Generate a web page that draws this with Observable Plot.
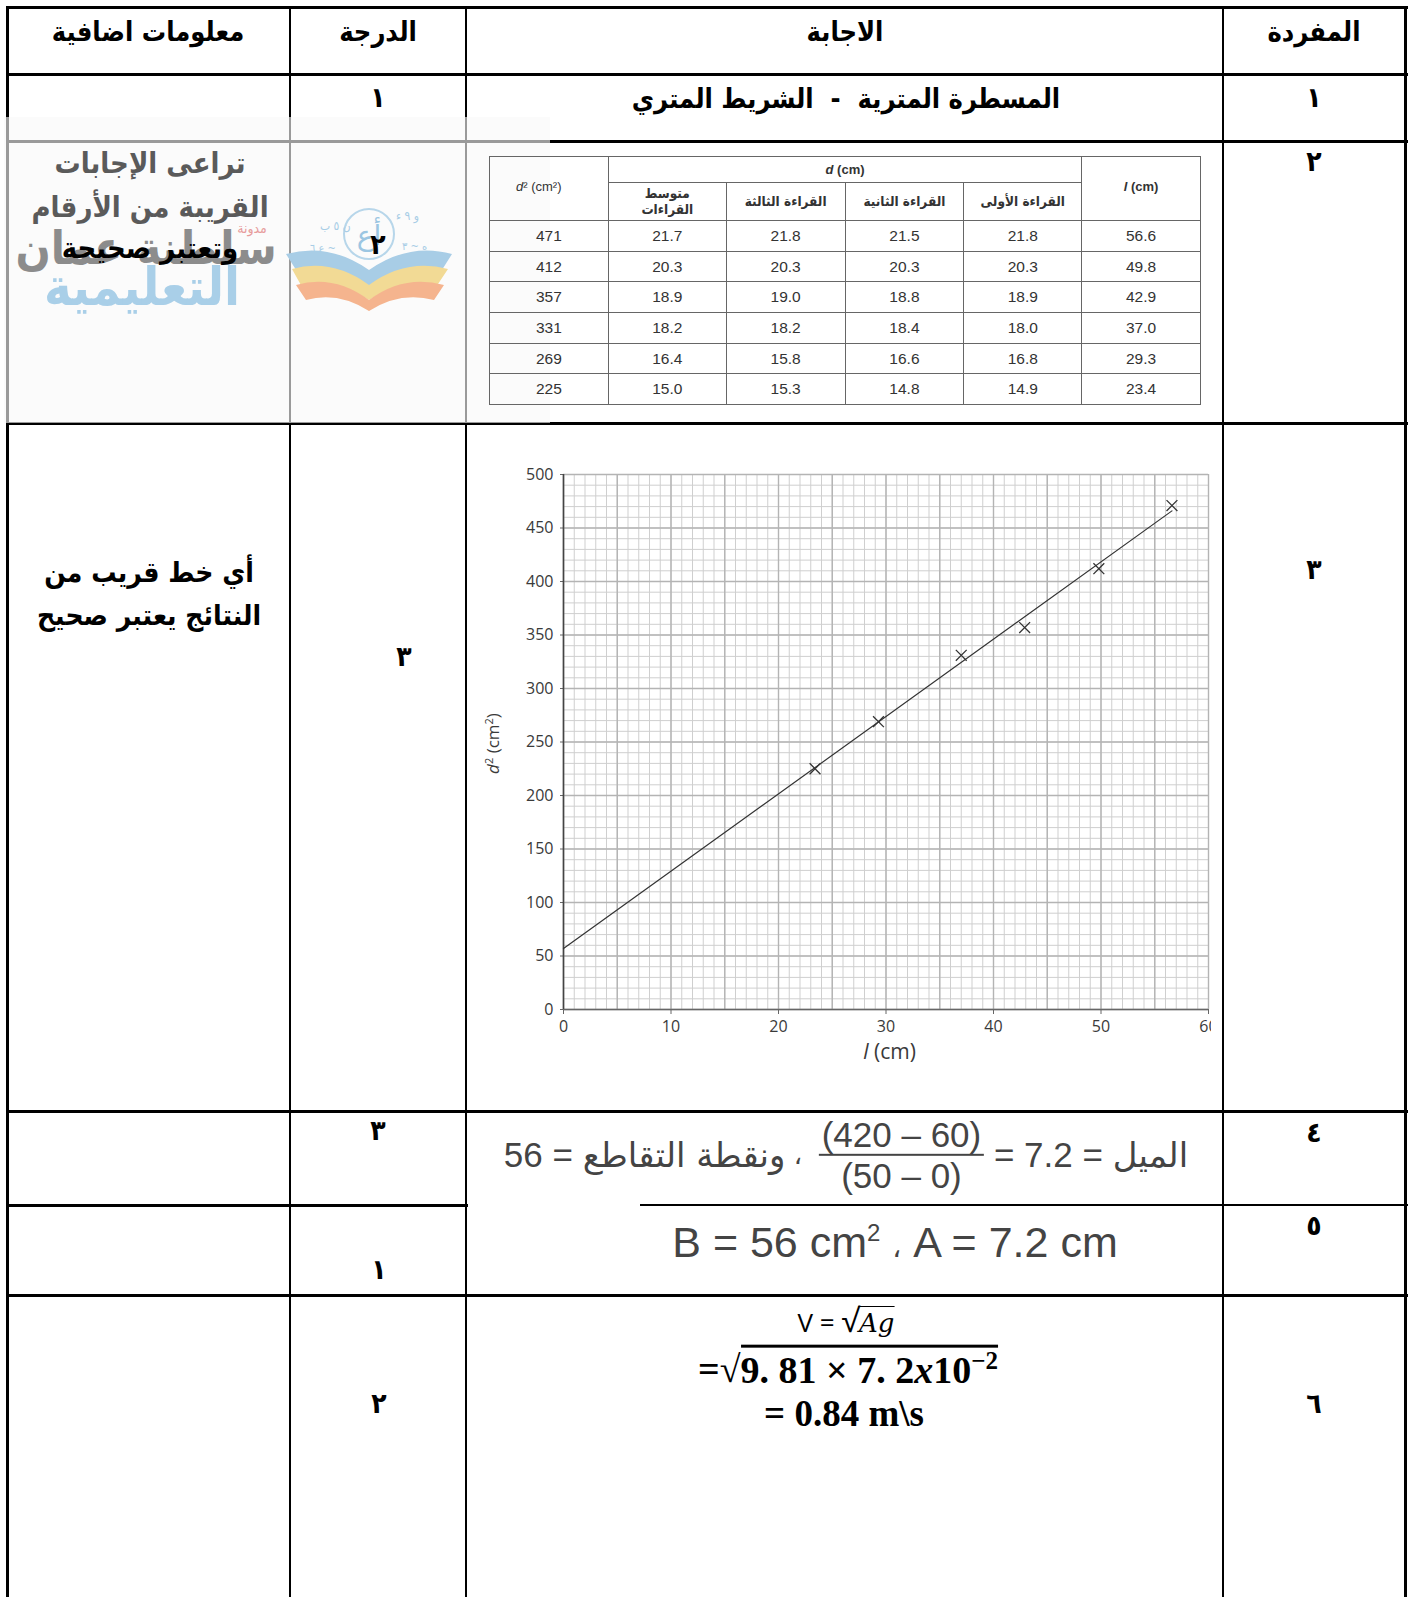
<!DOCTYPE html>
<html><head><meta charset="utf-8">
<script src="https://cdn.jsdelivr.net/npm/d3@7"></script>
<script src="https://cdn.jsdelivr.net/npm/@observablehq/plot@0.6"></script>
<style>
html,body{margin:0;padding:0;background:#fff;}
body{width:1413px;height:1597px;position:relative;overflow:hidden;font-family:"DejaVu Sans Condensed","DejaVu Sans",sans-serif;}
.ln{position:absolute;background:#000;}
.t{position:absolute;transform:translate(-50%,-50%);white-space:nowrap;font-weight:bold;line-height:1;}
#dt{position:absolute;border-collapse:collapse;font-family:"Liberation Sans",Arial,sans-serif;color:#333;}
#dt td{border:1px solid #666;text-align:center;padding:0;font-size:15.5px;}
#dt .ar{font-family:"DejaVu Sans Condensed","DejaVu Sans",sans-serif;font-weight:bold;font-size:13.5px;line-height:1.15;}
.sq{border-top:2px solid #000;padding-top:1px;}
</style></head><body>
<script>
// ---------------- data ----------------
const lengths  = [56.6, 49.8, 42.9, 37.0, 29.3, 23.4];   // l (cm)
const read1    = [21.8, 20.3, 18.9, 18.0, 16.8, 14.9];   // القراءة الأولى
const read2    = [21.5, 20.3, 18.8, 18.4, 16.6, 14.8];   // القراءة الثانية
const read3    = [21.8, 20.3, 19.0, 18.2, 15.8, 15.3];   // القراءة الثالثة
const readAvg  = [21.7, 20.3, 18.9, 18.2, 16.4, 15.0];   // متوسط القراءات
const dSquared = [471, 412, 357, 331, 269, 225];         // d² (cm²)
const fitL  = [0, 56.6];      // best-fit line ends (l)
const fitD2 = [57, 466];      // best-fit line ends (d²)
const xTicks = [0, 10, 20, 30, 40, 50, 60];
const yTicks = [0, 50, 100, 150, 200, 250, 300, 350, 400, 450, 500];
const headers = ["معلومات اضافية", "الدرجة", "الاجابة", "المفردة"];
const itemNums = ["١", "٢", "٣", "٤", "٥", "٦"];

// ---------------- helpers ----------------
const body = document.body;
function line(x, y, w, h, color) {
  const d = document.createElement("div");
  d.className = "ln";
  Object.assign(d.style, {left: x + "px", top: y + "px", width: w + "px", height: h + "px"});
  if (color) d.style.background = color;
  body.appendChild(d);
  return d;
}
function txt(html, x, y, size, extra) {
  const d = document.createElement("div");
  d.className = "t";
  d.innerHTML = html;
  Object.assign(d.style, {left: x + "px", top: y + "px", fontSize: size + "px"}, extra || {});
  body.appendChild(d);
  return d;
}

// ---------------- table grid ----------------
const colX = [7, 290, 466, 1223, 1405];
colX.forEach((x, i) => line(x - (i === 0 || i === 4 ? 1.5 : 1), 6, (i === 0 || i === 4) ? 3 : 2, 1600));
line(6, 6, 1402, 3);          // top
line(6, 73, 1402, 3);         // header bottom
line(6, 140, 1402, 3);        // row 1 bottom
line(6, 422, 1402, 3);        // row 2 bottom
line(6, 1110, 1402, 3);       // row 3 bottom
line(6, 1204, 462, 3);        // row 4 bottom (left part)
line(640, 1204, 768, 2);      // row 4 bottom (right part)
line(6, 1294, 1402, 3);       // row 5 bottom

// header
const hx = [148, 378, 845, 1314];
headers.forEach((h, i) => txt(h, hx[i], 31, 27));

// row 1
txt(itemNums[0], 378, 98, 28);
txt("المسطرة المترية &nbsp;-&nbsp; الشريط المتري", 846, 98, 27);
txt(itemNums[0], 1314, 98, 28);

// row 2 : number + inner data table
txt(itemNums[1], 1314, 162, 28);

// watermark overlay
const ov = document.createElement("div");
Object.assign(ov.style, {position: "absolute", left: "4px", top: "117px", width: "546px", height: "306px",
  background: "rgba(248,248,248,0.62)"});
body.appendChild(ov);
txt("تراعى الإجابات", 150, 163, 29, {color: "#5a5a5a"});
txt("القريبة من الأرقام", 150, 207, 29, {color: "#5a5a5a"});
txt("سلطنة عمان", 146, 248, 46, {color: "#8c8c8c"});
txt("التعليمية", 142, 287, 52, {color: "#a9cfe8", letterSpacing: "3px"});
txt("مدونة", 252, 228, 14, {color: "#e79b9b", fontWeight: "normal"});
// book logo
const logo = document.createElementNS("http://www.w3.org/2000/svg", "svg");
logo.setAttribute("width", 172); logo.setAttribute("height", 124);
Object.assign(logo.style, {position: "absolute", left: "284px", top: "190px"});
logo.innerHTML = `
 <path d="M2,64 Q45,52 85,80 Q125,52 168,64 L156,83 Q120,72 85,98 Q50,72 14,83 Z" fill="#a8cde6"/>
 <path d="M8,79 Q48,68 85,95 Q122,68 164,79 L152,97 Q118,88 85,110 Q52,88 18,97 Z" fill="#f2da95"/>
 <path d="M12,95 Q50,84 85,110 Q120,84 160,95 L150,110 Q116,101 85,121 Q54,101 22,110 Z" fill="#f5b48e"/>
 <circle cx="85" cy="44" r="25" fill="none" stroke="#b7d6ea" stroke-width="2"/>
 <text x="85" y="55" text-anchor="middle" font-size="28" fill="#9cc6e2" font-family="DejaVu Sans">أع</text>
 <text x="36" y="40" font-size="12" fill="#a8cde6">ن ٥ ب</text>
 <text x="112" y="30" font-size="12" fill="#a8cde6">و ٩ ء</text>
 <text x="26" y="62" font-size="11" fill="#a8cde6">ع ٦ ~</text>
 <text x="118" y="60" font-size="11" fill="#a8cde6">ه ~ ٣</text>`;
body.appendChild(logo);
txt("وتعتبر صحيحة", 150, 248, 29);
txt(itemNums[1], 378, 245, 28);

// inner data table
const dt = document.createElement("table");
dt.id = "dt";
Object.assign(dt.style, {left: "489px", top: "156px", width: "712px"});
const colW = [119, 118, 119, 119, 118, 119];
let html = "<colgroup>" + colW.map(w => `<col style="width:${w}px">`).join("") + "</colgroup>";
html += `<tr style="height:26px"><td rowspan="2" style="font-size:13px;vertical-align:top;padding-top:22px;text-align:left;padding-left:26px"><i>d</i>² (cm²)</td>
 <td colspan="4" style="font-weight:bold;font-size:13px"><i>d</i> (cm)</td>
 <td rowspan="2" style="font-size:13px;font-weight:bold;vertical-align:top;padding-top:22px"><i>l</i> (cm)</td></tr>`;
html += `<tr style="height:38px"><td class="ar">متوسط<br>القراءات</td><td class="ar">القراءة الثالثة</td><td class="ar">القراءة الثانية</td><td class="ar">القراءة الأولى</td></tr>`;
for (let i = 0; i < lengths.length; i++) {
  html += `<tr style="height:30.7px"><td>${dSquared[i]}</td><td>${readAvg[i].toFixed(1)}</td><td>${read3[i].toFixed(1)}</td><td>${read2[i].toFixed(1)}</td><td>${read1[i].toFixed(1)}</td><td>${lengths[i].toFixed(1)}</td></tr>`;
}
dt.innerHTML = html;
body.appendChild(dt);

// row 3
txt("أي خط قريب من", 149, 573, 28);
txt("النتائج يعتبر صحيح", 149, 616, 28);
txt(itemNums[2], 404, 657, 28);
txt(itemNums[2], 1314, 570, 28);

// chart
const SVG_L = 466, SVG_T = 430;
const pts = lengths.map((l, i) => ({l, d2: dSquared[i]}));
const fit = fitL.map((l, i) => ({l, d2: fitD2[i]}));
const chart = Plot.plot({
  width: 745, height: 670,
  marginLeft: 97, marginRight: 3, marginTop: 44, marginBottom: 91,
  style: {fontFamily: "Open Sans, Lato, sans-serif", fontSize: "16px", color: "#3a3a3a", background: "transparent", overflow: "hidden"},
  x: {domain: [0, 60], label: null},
  y: {domain: [0, 500], label: null},
  marks: [
    Plot.gridX(d3.range(0, 61, 1), {stroke: "#cfcfcf", strokeOpacity: 1, strokeWidth: 1}),
    Plot.gridY(d3.range(0, 501, 10), {stroke: "#cfcfcf", strokeOpacity: 1, strokeWidth: 1}),
    Plot.gridX(d3.range(0, 61, 5), {stroke: "#b4b4b4", strokeOpacity: 1, strokeWidth: 1.4}),
    Plot.gridY(d3.range(0, 501, 50), {stroke: "#b4b4b4", strokeOpacity: 1, strokeWidth: 1.4}),
    Plot.axisX(xTicks, {tickSize: 5, tickPadding: 6, stroke: "#666", fontSize: 16, label: null}),
    Plot.axisY(yTicks, {tickSize: 3, tickPadding: 7, stroke: "#666", fontSize: 16, label: null}),
    Plot.ruleY([0], {stroke: "#666", strokeWidth: 1.6}),
    Plot.ruleX([0], {stroke: "#444", strokeWidth: 1.6}),
    Plot.line(fit, {x: "l", y: "d2", stroke: "#333", strokeWidth: 1.2}),
    Plot.dot(pts, {x: "l", y: "d2", symbol: "times", r: 5, stroke: "#333", strokeWidth: 1.3})
  ]
});
const wrap = document.createElement("div");
Object.assign(wrap.style, {position: "absolute", left: SVG_L + "px", top: SVG_T + "px", width: "745px", height: "670px", overflow: "hidden"});
wrap.appendChild(chart);
body.appendChild(wrap);
const sx = chart.scale("x"), sy = chart.scale("y");
const svg = d3.select(chart);
const xl = svg.append("text").attr("x", sx.apply(30) + 4).attr("y", sy.apply(0) + 50)
  .attr("text-anchor", "middle").attr("font-size", 21).attr("fill", "#3a3a3a");
xl.append("tspan").attr("font-style", "italic").text("l");
xl.append("tspan").text(" (cm)");
const yl = svg.append("text").attr("transform", `translate(${499 - SVG_L},${sy.apply(250) + 2}) rotate(-90)`)
  .attr("text-anchor", "middle").attr("font-size", 17).attr("fill", "#3a3a3a");
yl.append("tspan").attr("font-style", "italic").text("d");
yl.append("tspan").attr("font-size", 11).attr("dy", -6).text("2");
yl.append("tspan").attr("dy", 6).text(" (cm");
yl.append("tspan").attr("font-size", 11).attr("dy", -6).text("2");
yl.append("tspan").attr("dy", 6).text(")");

// row 4
txt(itemNums[2], 378, 1131, 28);
txt(itemNums[3], 1314, 1133, 28);
const f4 = document.createElement("div");
Object.assign(f4.style, {position: "absolute", left: "846px", top: "1155px", transform: "translate(-50%,-50%)",
  display: "flex", alignItems: "center", direction: "ltr", whiteSpace: "nowrap",
  fontFamily: "'Liberation Sans', Arial, sans-serif", fontSize: "35px", color: "#444"});
f4.innerHTML = `<span>56 =&nbsp;</span>
 <span style="unicode-bidi:isolate;direction:rtl;font-family:'DejaVu Sans',sans-serif;font-size:34px">ونقطة التقاطع</span>
 <span style="font-family:'DejaVu Sans';font-size:26px">&nbsp;،&nbsp;&nbsp;</span>
 <span style="display:inline-flex;flex-direction:column;align-items:center;line-height:1.12">
   <span style="border-bottom:2px solid #444;padding:0 3px">(420 – 60)</span>
   <span>(50 – 0)</span></span>
 <span>&nbsp;= 7.2 =&nbsp;</span>
 <span style="unicode-bidi:isolate;direction:rtl;font-family:'DejaVu Sans',sans-serif;font-size:34px">الميل</span>`;
body.appendChild(f4);

// row 5
txt(itemNums[4], 1314, 1226, 28);
txt(itemNums[0], 379, 1270, 28);
txt("B = 56 cm<sup style='font-size:24px'>2</sup> <span style=\"font-family:'DejaVu Sans';font-size:28px\">،</span> A = 7.2 cm", 895, 1242, 43,
  {fontFamily: "'Liberation Sans', Arial, sans-serif", fontWeight: "normal", color: "#444", direction: "ltr"});

// row 6
txt(itemNums[1], 379, 1404, 28);
txt(itemNums[5], 1314, 1404, 28);
txt("V = <span style='font-size:32px'>√</span><span class='sq' style=\"font-family:'DejaVu Serif';font-style:italic;font-weight:normal;border-top-width:1.5px\">Ag</span>",
  846, 1320, 26, {fontFamily: "'Open Sans', sans-serif", fontWeight: "normal", direction: "ltr"});
txt("=√<span class='sq' style='border-top-width:3px'>9. 81 × 7. 2<i>x</i>10<sup style='font-size:25px'>−2</sup></span>", 848, 1368, 38,
  {fontFamily: "'Liberation Serif','DejaVu Serif',serif", direction: "ltr"});
txt("= 0.84 m\\s", 844, 1413, 37, {fontFamily: "'Liberation Serif','DejaVu Serif',serif", direction: "ltr"});
</script>
</body></html>
